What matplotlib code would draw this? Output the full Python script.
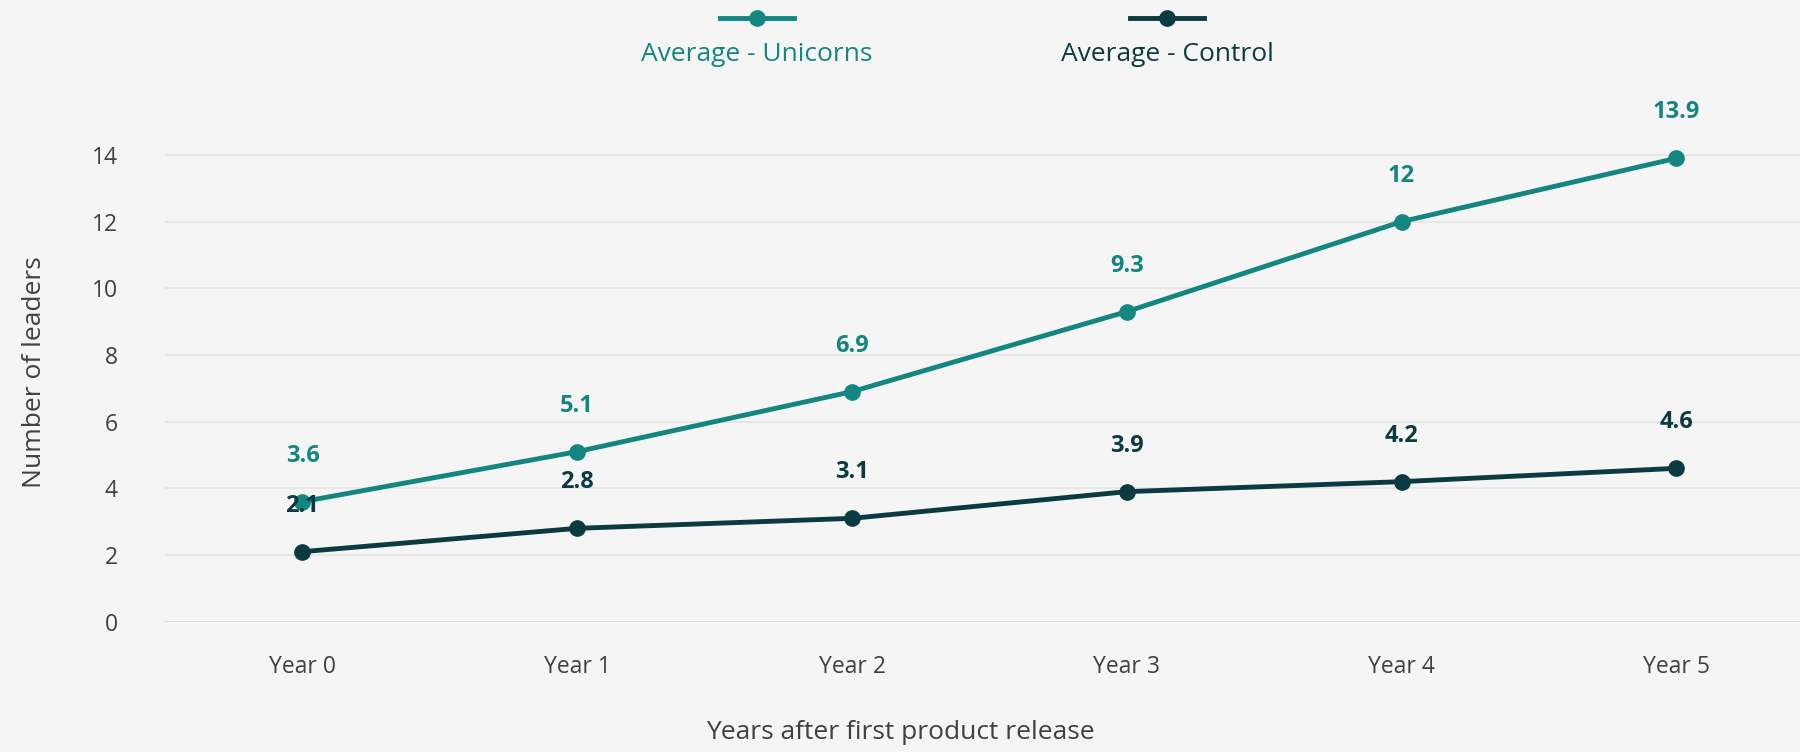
import matplotlib

matplotlib.use("Agg")
import matplotlib.pyplot as plt
from matplotlib.lines import Line2D

years = ["Year 0", "Year 1", "Year 2", "Year 3", "Year 4", "Year 5"]
unicorns = [3.6, 5.1, 6.9, 9.3, 12.0, 13.9]
unicorn_labels = ["3.6", "5.1", "6.9", "9.3", "12", "13.9"]
control = [2.1, 2.8, 3.1, 3.9, 4.2, 4.6]
control_labels = ["2.1", "2.8", "3.1", "3.9", "4.2", "4.6"]
yticks = [0, 2, 4, 6, 8, 10, 12, 14]

TEAL = "#148680"
DARK = "#0b3a40"
BG = "#f5f5f5"
TXT = "#404040"

plt.rcParams["font.family"] = ["Open Sans", "DejaVu Sans"]

fig = plt.figure(figsize=(18, 7.52), dpi=100, facecolor=BG)
ax = fig.add_axes([0.0917, 0.1733, 0.9083, 0.665], facecolor=BG)

x = list(range(len(years)))
ax.plot(x, control, color=DARK, lw=3.5, marker="o", ms=11, zorder=3)
ax.plot(x, unicorns, color=TEAL, lw=3.5, marker="o", ms=11, zorder=3)

for xi, v, lab in zip(x, unicorns, unicorn_labels):
    ax.annotate(lab, (xi, v), xytext=(0, 33), textcoords="offset points",
                ha="center", va="center", fontsize=17, fontweight="bold",
                color=TEAL, zorder=5)
for xi, v, lab in zip(x, control, control_labels):
    ax.annotate(lab, (xi, v), xytext=(0, 33), textcoords="offset points",
                ha="center", va="center", fontsize=17, fontweight="bold",
                color=DARK, zorder=5)

ax.set_xlim(-0.5, 5.45)
ax.set_ylim(0, 15)
ax.set_xticks(x)
ax.set_xticklabels(years)
ax.set_yticks(yticks)
ax.tick_params(axis="both", length=0, labelsize=16.5, colors=TXT)
ax.tick_params(axis="x", pad=24)
ax.tick_params(axis="y", pad=34)
for s in ax.spines.values():
    s.set_visible(False)
for t in yticks:
    ax.axhline(t, color="#d8d8d8" if t == 0 else "#e7e7e7", lw=2 if t == 0 else 1.5, zorder=1)

fig.text(0.5, 0.026, "Years after first product release", ha="center", va="center",
         fontsize=19, color=TXT)
ax.set_ylabel("Number of leaders", fontsize=19, color=TXT)
ax.yaxis.set_label_coords(-0.072, 0.5)

# legend: marker above text
for cx, col, name in [(0.4205, TEAL, "Average - Unicorns"), (0.6485, DARK, "Average - Control")]:
    fig.add_artist(Line2D([cx - 0.0205, cx + 0.0205], [0.976, 0.976], color=col, lw=3.5,
                          transform=fig.transFigure))
    fig.add_artist(Line2D([cx], [0.976], color=col, marker="o", ms=11,
                          transform=fig.transFigure))
    fig.text(cx, 0.928, name, ha="center", va="center", fontsize=19, color=col)

fig.savefig("out.png", dpi=100, facecolor=BG)
